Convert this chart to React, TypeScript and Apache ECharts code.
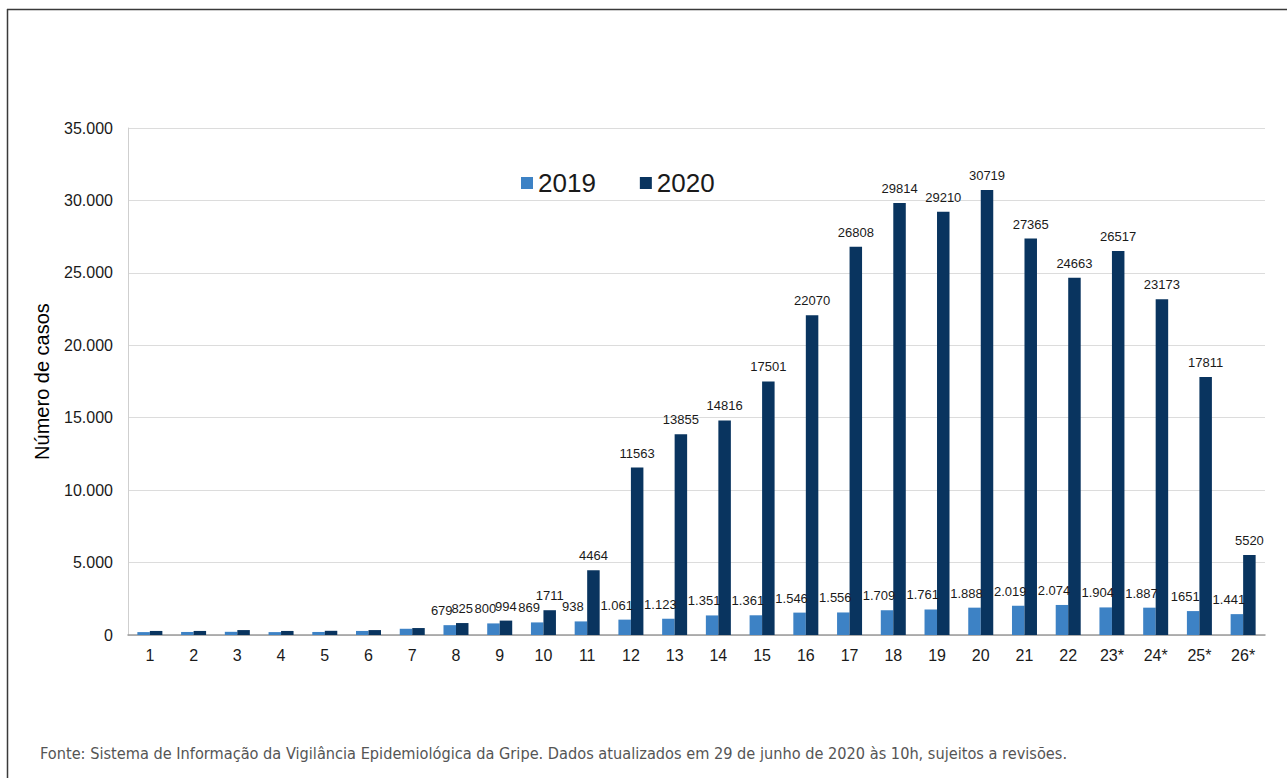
import React, { useEffect, useRef } from "react";
import * as echarts from "echarts";

const weeks = ["1", "2", "3", "4", "5", "6", "7", "8", "9", "10", "11", "12", "13", "14", "15", "16", "17", "18", "19", "20", "21", "22", "23*", "24*", "25*", "26*"];
const cases2019 = [200, 210, 220, 200, 210, 280, 430, 679, 800, 869, 938, 1061, 1123, 1351, 1361, 1546, 1556, 1709, 1761, 1888, 2019, 2074, 1904, 1887, 1651, 1441];
const cases2020 = [280, 280, 340, 280, 290, 340, 480, 825, 994, 1711, 4464, 11563, 13855, 14816, 17501, 22070, 26808, 29814, 29210, 30719, 27365, 24663, 26517, 23173, 17811, 5520];
const labels2019 = ["", "", "", "", "", "", "", "679", "800", "869", "938", "1.061", "1.123", "1.351", "1.361", "1.546", "1.556", "1.709", "1.761", "1.888", "2.019", "2.074", "1.904", "1.887", "1651", "1.441"];
const labels2020 = ["", "", "", "", "", "", "", "825", "994", "1711", "4464", "11563", "13855", "14816", "17501", "22070", "26808", "29814", "29210", "30719", "27365", "24663", "26517", "23173", "17811", "5520"];
const seriesNames = ["2019", "2020"];
const yAxisTitle = "Número de casos";
const footerText = "Fonte: Sistema de Informação da Vigilância Epidemiológica da Gripe. Dados atualizados em 29 de junho de 2020 às 10h, sujeitos a revisões.";

const COLOR_2019 = "#3d82c5";
const COLOR_2020 = "#09345f";
const FONT = "'Liberation Sans', Arial, sans-serif";

export default function App() {
  const ref = useRef<HTMLDivElement>(null);
  useEffect(() => {
    if (!ref.current) return;
    const chart = echarts.init(ref.current, null, { renderer: "svg" });
    const labelStyle = {
      show: true,
      position: "top" as const,
      distance: 8,
      fontSize: 13,
      color: "#1a1a1a",
      fontFamily: FONT,
    };
    chart.setOption({
      animation: false,
      backgroundColor: "#ffffff",
      textStyle: { fontFamily: FONT },
      legend: {
        top: 165,
        left: 516,
        itemWidth: 12,
        itemHeight: 12,
        itemGap: 44,
        icon: "rect",
        textStyle: { fontSize: 26, color: "#1a1a1a", fontFamily: FONT },
        data: seriesNames,
      },
      grid: { left: 128, right: 22, top: 128, bottom: 143, containLabel: false },
      xAxis: {
        type: "category",
        data: weeks,
        axisLine: { show: true, lineStyle: { color: "#9a9a9a", width: 1.5 } },
        axisTick: { show: false },
        axisLabel: { fontSize: 16, color: "#1a1a1a", margin: 12, fontFamily: FONT },
      },
      yAxis: {
        type: "value",
        min: 0,
        max: 35000,
        interval: 5000,
        name: yAxisTitle,
        nameLocation: "middle",
        nameRotate: 90,
        nameGap: 76,
        nameTextStyle: { fontSize: 20, color: "#000", fontFamily: FONT },
        axisLine: { show: true, lineStyle: { color: "#cfcfcf", width: 1 } },
        axisTick: { show: false },
        splitLine: { lineStyle: { color: "#dcdcdc", width: 1 } },
        axisLabel: {
          fontSize: 16,
          color: "#1a1a1a",
          margin: 15,
          fontFamily: FONT,
          formatter: (v: number) => v.toLocaleString("de-DE"),
        },
      },
      series: [
        {
          name: seriesNames[0],
          type: "bar",
          data: cases2019,
          barWidth: 12.5,
          barGap: "0%",
          itemStyle: { color: COLOR_2019 },
          label: { ...labelStyle, offset: [-8, 0], formatter: (p: any) => labels2019[p.dataIndex] },
        },
        {
          name: seriesNames[1],
          type: "bar",
          data: cases2020,
          barWidth: 12.5,
          barGap: "0%",
          itemStyle: { color: COLOR_2020 },
          label: { ...labelStyle, formatter: (p: any) => labels2020[p.dataIndex] },
        },
      ],
      graphic: [
        { type: "line", shape: { x1: 7, y1: 9.5, x2: 1287, y2: 9.5 }, style: { stroke: "#3a3a3a", lineWidth: 1.5 } },
        { type: "line", shape: { x1: 7.5, y1: 9, x2: 7.5, y2: 778 }, style: { stroke: "#3a3a3a", lineWidth: 1.5 } },
        {
          type: "text",
          left: 40,
          top: 745,
          style: {
            text: footerText,
            fontSize: 16.2,
            fill: "#555",
            fontFamily: "'Liberation Sans Narrow', 'DejaVu Sans Condensed', 'Open Sans', sans-serif",
          },
        },
      ],
    });
    return () => chart.dispose();
  }, []);
  return <div ref={ref} style={{ position: "absolute", left: 0, top: 0, width: 1287, height: 778 }} />;
}
